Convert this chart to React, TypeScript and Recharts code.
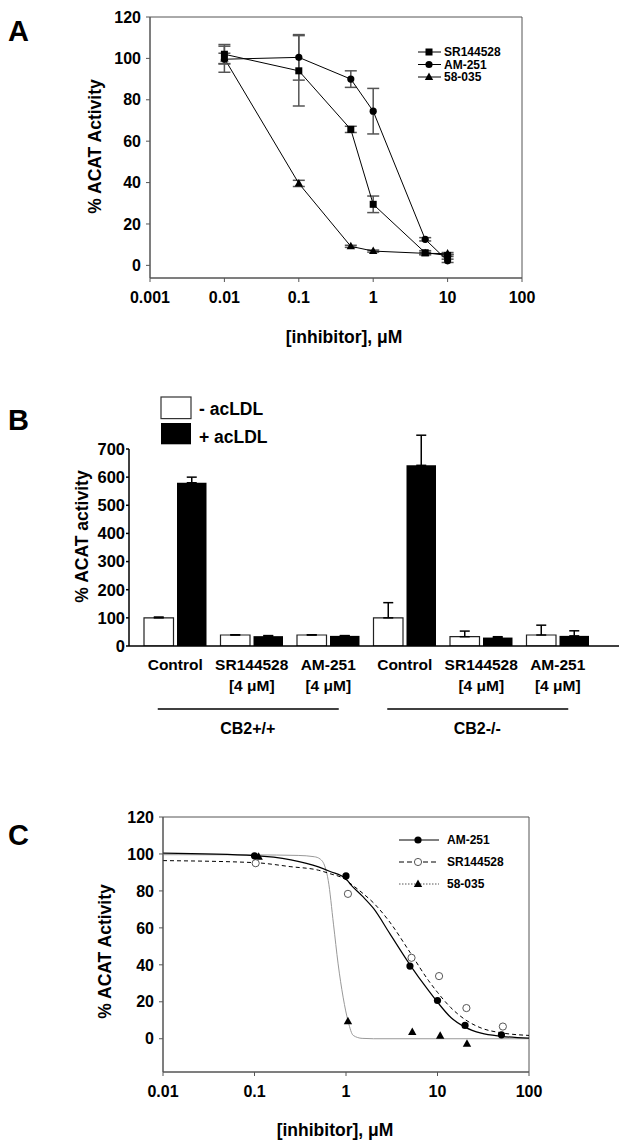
import React from 'react';
import {
  ComposedChart,
  BarChart,
  Bar,
  Line,
  Scatter,
  XAxis,
  YAxis,
  ErrorBar,
  ReferenceArea,
  Legend,
} from 'recharts';

const FONT = '"Liberation Sans", Arial, Helvetica, sans-serif';

// ---- Panel A: ACAT activity vs inhibitor (log axis), mean ± error
const concA = [0.01, 0.1, 0.5, 1, 5, 10];
const srA = [102, 94, 65.7, 29.5, 6.1, 4.8];
const srAErr = [4.7, 17, 1.5, 4, 1, 0.5];
const amA = [99.6, 100.5, 90, 74.5, 12.6, 2.2];
const amAErr = [6.3, 11, 4, 11, 0.8, 0.8];
const inhA = [100, 39.6, 9.2, 6.9, 5.8, 5.7];
const inhAErr = [2.5, 1.5, 0.5, 0.5, 0.5, 0.5];
const xTicksA = [0.001, 0.01, 0.1, 1, 10, 100];
const yTicksAC = [0, 20, 40, 60, 80, 100, 120];
const legendA = ['SR144528', 'AM-251', '58-035'];

// ---- Panel B: grouped bars
const treatments = ['Control', 'SR144528', 'AM-251', 'Control', 'SR144528', 'AM-251'];
const doses = ['', '[4 μM]', '[4 μM]', '', '[4 μM]', '[4 μM]'];
const genotypes = ['CB2+/+', 'CB2-/-'];
const minusLDL = [100, 39, 39, 100, 33, 39];
const minusLDLErr = [3, 1, 1, 54, 20, 35];
const plusLDL = [580, 35, 36, 642, 30, 36];
const plusLDLErr = [20, 2, 1, 107, 3, 18];
const yTicksB = [0, 100, 200, 300, 400, 500, 600, 700];
const legendB = ['- acLDL', '+ acLDL'];

// ---- Panel C: points and fitted curves (curve values)
const amPtsX = [0.1, 1, 5, 10, 20, 50];
const amPts = [99, 88.1, 39.3, 20.7, 7.2, 2.1];
const srPtsX = [0.103, 1.05, 5.2, 10.4, 20.7, 51.8];
const srPts = [95, 78.4, 43.8, 33.9, 16.6, 6.6];
const inhPtsX = [0.111, 1.05, 5.3, 10.7, 21];
const inhPts = [98.5, 9.5, 3.6, 1.6, -2.7];
const curveX = [0.01, 0.1, 0.25, 0.5, 0.67, 1, 1.1, 1.5, 2, 3, 5, 8, 10, 14, 20, 30, 50, 100];
const amCurve = [100.4, 99.1, 96.8, 93, 90.5, 86.5, 84, 77.3, 70.5, 57, 40, 26, 19.8, 11.5, 6.3, 3, 1.3, 0.3];
const srCurve = [96.4, 95.3, 93.1, 91.2, 89.3, 86, 84.3, 79, 73.5, 63.2, 46.8, 31.4, 25.1, 16.8, 10.4, 5.8, 3.2, 1.8];
const inhCurveX = [0.01, 0.1, 0.3, 0.45, 0.52, 0.59, 0.64, 0.73, 0.82, 0.93, 1.06, 1.2, 1.5, 2, 10, 100];
const inhCurve = [99.6, 99.5, 99.2, 98.5, 97.3, 93, 85.6, 62, 40.5, 22.5, 9, 1.8, 0.2, 0, 0, 0];
const xTicksC = [0.01, 0.1, 1, 10, 100];
const legendC = ['AM-251', 'SR144528', '58-035'];

const rows = (xs: number[], ys: number[], errs?: number[]) =>
  xs.map((x, i) => ({ x, y: ys[i], err: errs ? errs[i] : 0 }));

const barData = treatments.map((t, i) => ({
  key: `${genotypes[i < 3 ? 0 : 1]} ${t}`,
  minus: minusLDL[i],
  minusErr: [0, minusLDLErr[i]],
  plus: plusLDL[i],
  plusErr: [0, plusLDLErr[i]],
}));

const tickStyle = (size: number) => ({ fill: '#000', fontSize: size, fontWeight: 700, fontFamily: FONT });

function Square({ cx, cy }: any) {
  return <rect x={cx - 3.5} y={cy - 3.5} width={7} height={7} fill="#000" />;
}
function Dot({ cx, cy, open }: any) {
  return (
    <circle cx={cx} cy={cy} r={3.6} fill={open ? '#fff' : '#000'} stroke={open ? '#444' : 'none'} strokeWidth={0.9} />
  );
}
function Tri({ cx, cy }: any) {
  return <path d={`M${cx},${cy - 4.5}L${cx + 4.2},${cy + 3}L${cx - 4.2},${cy + 3}Z`} fill="#000" />;
}

function AxisTitle({ viewBox, text, vertical, shiftX = 0, shiftY = 0 }: any) {
  if (!viewBox) return null;
  const { x, y, width, height } = viewBox;
  const style = { fontFamily: FONT, fontWeight: 700, fontSize: 17.5, fill: '#000' };
  if (vertical) {
    const cx = x + width + shiftX;
    const cy = y + height / 2 + shiftY;
    return (
      <text x={cx} y={cy} transform={`rotate(-90 ${cx} ${cy})`} textAnchor="middle" dominantBaseline="central" {...style}>
        {text}
      </text>
    );
  }
  return (
    <text x={x + width / 2 + shiftX} y={y + shiftY} textAnchor="middle" dominantBaseline="central" {...style}>
      {text}
    </text>
  );
}

function GroupTick({ x, y, payload }: any) {
  const i = payload.index;
  const t = { fontFamily: FONT, fontWeight: 700, fontSize: 15.5, fill: '#000' };
  return (
    <g>
      <text x={x} y={y + 18} textAnchor="middle" dominantBaseline="central" {...t}>
        {treatments[i]}
      </text>
      {doses[i] && (
        <text x={x} y={y + 39} textAnchor="middle" dominantBaseline="central" {...t}>
          {doses[i]}
        </text>
      )}
      {i % 3 === 1 && (
        <>
          <line x1={x - 94} x2={x + 87} y1={y + 63} y2={y + 63} stroke="#000" strokeWidth={1.5} />
          <text x={x - 4} y={y + 82} textAnchor="middle" dominantBaseline="central" {...t} fontSize={16}>
            {genotypes[(i - 1) / 3]}
          </text>
        </>
      )}
    </g>
  );
}

const legendText = { fontFamily: FONT, fontWeight: 700, fill: '#000' };

function LegendA() {
  const marks = [Square, Dot, Tri];
  return (
    <svg width={100} height={44}>
      {legendA.map((name, i) => {
        const y = 8 + i * 12.5;
        const M = marks[i];
        return (
          <g key={name}>
            <line x1={3} x2={26} y1={y} y2={y} stroke="#000" />
            <M cx={14} cy={y} />
            <text x={29} y={y} dominantBaseline="central" fontSize={12} {...legendText}>
              {name}
            </text>
          </g>
        );
      })}
    </svg>
  );
}

function LegendB() {
  return (
    <svg width={130} height={56}>
      <rect x={3} y={3} width={30} height={21.6} fill="#fff" stroke="#333" strokeWidth={1.2} />
      <rect x={3} y={29} width={30} height={21.3} fill="#000" />
      {legendB.map((name, i) => (
        <text key={name} x={41} y={15 + i * 28} dominantBaseline="central" fontSize={17.5} {...legendText}>
          {name}
        </text>
      ))}
    </svg>
  );
}

function LegendC() {
  const dashes = [undefined, '5 3', '1.5 1.5'];
  return (
    <svg width={120} height={68}>
      {legendC.map((name, i) => {
        const y = 12 + i * 22;
        return (
          <g key={name}>
            <line x1={3} x2={43} y1={y} y2={y} stroke={i === 2 ? '#555' : '#000'} strokeDasharray={dashes[i]} />
            {i === 0 && <Dot cx={22} cy={y} />}
            {i === 1 && <Dot cx={22} cy={y} open />}
            {i === 2 && <Tri cx={22} cy={y} />}
            <text x={51} y={y} dominantBaseline="central" fontSize={12} {...legendText}>
              {name}
            </text>
          </g>
        );
      })}
    </svg>
  );
}

const letter = (ch: string, top: number) => (
  <div
    style={{
      position: 'absolute',
      left: 8,
      top,
      fontFamily: FONT,
      fontWeight: 700,
      fontSize: 29,
      lineHeight: '29px',
      color: '#000',
    }}
  >
    {ch}
  </div>
);

export default function App() {
  const axisGray = '#555';
  return (
    <div style={{ position: 'absolute', left: 0, top: 0, width: 626, height: 1147, background: '#fff' }}>
      {letter('A', 17)}
      {letter('B', 406)}
      {letter('C', 821)}

      {/* Panel A */}
      <div style={{ position: 'absolute', left: 0, top: 0 }}>
        <ComposedChart width={626} height={360} margin={{ top: 17, right: 104, bottom: 22, left: 90 }}>
          <XAxis
            dataKey="x"
            type="number"
            scale="log"
            domain={[0.001, 100]}
            ticks={xTicksA}
            allowDataOverflow
            height={60}
            stroke={axisGray}
            tickSize={4}
            tickMargin={10}
            tick={tickStyle(16)}
            label={(p: any) => <AxisTitle viewBox={p.viewBox} text="[inhibitor], μM" shiftX={8} shiftY={59.3} />}
          />
          <YAxis
            type="number"
            domain={[-6.1, 120]}
            ticks={yTicksAC}
            allowDataOverflow
            width={60}
            stroke={axisGray}
            tickSize={4}
            tickMargin={5}
            tick={tickStyle(16)}
            label={(p: any) => <AxisTitle viewBox={p.viewBox} text="% ACAT Activity" vertical shiftX={-55} shiftY={-1} />}
          />
          <ReferenceArea x1={0.001} x2={100} y1={-6.1} y2={120} fill="none" stroke={axisGray} ifOverflow="visible" />
          <Line
            data={rows(concA, inhA, inhAErr)}
            dataKey="y"
            stroke="#000"
            strokeWidth={1}
            dot={(p: any) => <Tri key={p.index} cx={p.cx} cy={p.cy} />}
            isAnimationActive={false}
          >
            <ErrorBar dataKey="err" direction="y" width={6} stroke={axisGray} />
          </Line>
          <Line
            data={rows(concA, srA, srAErr)}
            dataKey="y"
            stroke="#000"
            strokeWidth={1}
            dot={(p: any) => <Square key={p.index} cx={p.cx} cy={p.cy} />}
            isAnimationActive={false}
          >
            <ErrorBar dataKey="err" direction="y" width={6} stroke={axisGray} />
          </Line>
          <Line
            data={rows(concA, amA, amAErr)}
            dataKey="y"
            stroke="#000"
            strokeWidth={1}
            dot={(p: any) => <Dot key={p.index} cx={p.cx} cy={p.cy} />}
            isAnimationActive={false}
          >
            <ErrorBar dataKey="err" direction="y" width={6} stroke={axisGray} />
          </Line>
          <Legend
            layout="horizontal"
            verticalAlign="middle"
            align="center"
            wrapperStyle={{ top: 44, left: 415, width: 100 }}
            content={() => <LegendA />}
          />
        </ComposedChart>
      </div>

      {/* Panel B */}
      <div style={{ position: 'absolute', left: 0, top: 380 }}>
        <BarChart
          width={626}
          height={370}
          data={barData}
          margin={{ top: 69, right: 7, bottom: 4, left: 80 }}
          barSize={29.5}
          barGap={3.5}
        >
          <XAxis
            dataKey="key"
            type="category"
            interval={0}
            padding={{ left: 8, right: 23 }}
            height={100}
            stroke="#000"
            strokeWidth={1.5}
            tickLine={false}
            tickSize={0}
            tickMargin={0}
            tick={<GroupTick />}
          />
          <YAxis
            type="number"
            domain={[0, 700]}
            ticks={yTicksB}
            allowDataOverflow
            width={49}
            stroke="#000"
            strokeWidth={1.5}
            tickSize={3}
            tickMargin={1}
            tick={tickStyle(16.5)}
            label={(p: any) => <AxisTitle viewBox={p.viewBox} text="% ACAT activity" vertical shiftX={-47} shiftY={-11} />}
          />
          <Bar dataKey="minus" fill="#fff" stroke="#222" strokeWidth={1.2} isAnimationActive={false}>
            <ErrorBar dataKey="minusErr" direction="y" width={5} stroke="#000" strokeWidth={1.5} />
          </Bar>
          <Bar dataKey="plus" fill="#000" isAnimationActive={false}>
            <ErrorBar dataKey="plusErr" direction="y" width={5} stroke="#000" strokeWidth={1.5} />
          </Bar>
          <Legend
            layout="horizontal"
            verticalAlign="middle"
            align="center"
            wrapperStyle={{ top: 14, left: 158, width: 130 }}
            content={() => <LegendB />}
          />
        </BarChart>
      </div>

      {/* Panel C */}
      <div style={{ position: 'absolute', left: 0, top: 780 }}>
        <ComposedChart width={626} height={367} margin={{ top: 37, right: 97, bottom: 15, left: 103 }}>
          <XAxis
            dataKey="x"
            type="number"
            scale="log"
            domain={[0.01, 100]}
            ticks={xTicksC}
            allowDataOverflow
            height={60}
            stroke={axisGray}
            tickSize={4}
            tickMargin={10}
            tick={tickStyle(16)}
            label={(p: any) => <AxisTitle viewBox={p.viewBox} text="[inhibitor], μM" shiftX={-11} shiftY={58} />}
          />
          <YAxis
            type="number"
            domain={[-18, 120]}
            ticks={yTicksAC}
            allowDataOverflow
            width={60}
            stroke={axisGray}
            tickSize={4}
            tickMargin={5}
            tick={tickStyle(16)}
            label={(p: any) => <AxisTitle viewBox={p.viewBox} text="% ACAT Activity" vertical shiftX={-58} shiftY={7} />}
          />
          <ReferenceArea x1={0.01} x2={100} y1={-18} y2={120} fill="none" stroke={axisGray} ifOverflow="visible" />
          <Line
            data={rows(inhCurveX, inhCurve)}
            dataKey="y"
            type="monotone"
            stroke="#999"
            strokeWidth={1}
            dot={false}
            isAnimationActive={false}
          />
          <Line
            data={rows(curveX, srCurve)}
            dataKey="y"
            type="monotone"
            stroke="#000"
            strokeWidth={1}
            strokeDasharray="4 3"
            dot={false}
            isAnimationActive={false}
          />
          <Line
            data={rows(curveX, amCurve)}
            dataKey="y"
            type="monotone"
            stroke="#000"
            strokeWidth={1.2}
            dot={false}
            isAnimationActive={false}
          />
          <Scatter
            data={rows(inhPtsX, inhPts)}
            dataKey="y"
            shape={(p: any) => <Tri cx={p.cx} cy={p.cy} />}
            isAnimationActive={false}
          />
          <Scatter
            data={rows(srPtsX, srPts)}
            dataKey="y"
            shape={(p: any) => <Dot cx={p.cx} cy={p.cy} open />}
            isAnimationActive={false}
          />
          <Scatter
            data={rows(amPtsX, amPts)}
            dataKey="y"
            shape={(p: any) => <Dot cx={p.cx} cy={p.cy} />}
            isAnimationActive={false}
          />
          <Legend
            layout="horizontal"
            verticalAlign="middle"
            align="center"
            wrapperStyle={{ top: 48, left: 396, width: 120 }}
            content={() => <LegendC />}
          />
        </ComposedChart>
      </div>
    </div>
  );
}
